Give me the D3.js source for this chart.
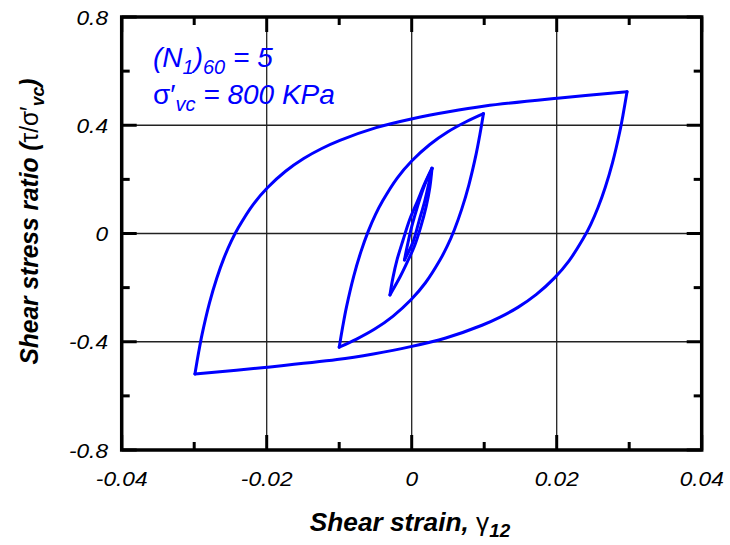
<!DOCTYPE html>
<html><head><meta charset="utf-8">
<script src="https://cdn.jsdelivr.net/npm/d3@7"></script>
<style>html,body{margin:0;padding:0;background:#fff}svg{display:block}</style>
</head><body>
<svg id="chart" width="730" height="545"></svg>
<script>
// ---- data (shear strain, shear stress ratio) ----
const xTicksMajor = [-0.04, -0.02, 0, 0.02, 0.04];
const xTicksMinor = [-0.03, -0.01, 0.01, 0.03];
const yTicksMajor = [-0.8, -0.4, 0, 0.4, 0.8];
const yTicksMinor = [-0.6, -0.2, 0.2, 0.6];
const xTickLabels = ["-0.04", "-0.02", "0", "0.02", "0.04"];
const yTickLabels = ["-0.8", "-0.4", "0", "0.4", "0.8"];
const xGrid = [-0.02, 0, 0.02];
const yGrid = [-0.4, 0, 0.4];

const bigUp = [[-0.0299,-0.519],[-0.0294,-0.441],[-0.0289,-0.371],[-0.0279,-0.257],[-0.0269,-0.166],[-0.0259,-0.091],[-0.0249,-0.029],[-0.0239,0.022],[-0.0219,0.106],[-0.0199,0.169],[-0.0174,0.230],[-0.0149,0.277],[-0.0124,0.314],[-0.0099,0.344],[-0.0049,0.391],[0.0001,0.424],[0.0051,0.450],[0.0101,0.471],[0.0201,0.500],[0.0297,0.524]];
const bigDown = [[0.0297,0.524],[0.0292,0.446],[0.0287,0.376],[0.0277,0.262],[0.0267,0.171],[0.0257,0.096],[0.0247,0.034],[0.0237,-0.017],[0.0217,-0.101],[0.0197,-0.164],[0.0172,-0.225],[0.0147,-0.272],[0.0122,-0.309],[0.0097,-0.339],[0.0047,-0.386],[-0.0003,-0.419],[-0.0053,-0.445],[-0.0103,-0.466],[-0.0203,-0.495],[-0.0299,-0.519]];
const medUp = [[-0.0100,-0.420],[-0.0095,-0.342],[-0.0090,-0.272],[-0.0080,-0.158],[-0.0070,-0.067],[-0.0060,0.008],[-0.0050,0.070],[-0.0040,0.121],[-0.0020,0.205],[0.0000,0.268],[0.0025,0.329],[0.0050,0.376],[0.0075,0.413],[0.0099,0.443]];
const medDown = [[0.0099,0.443],[0.0094,0.365],[0.0089,0.295],[0.0079,0.181],[0.0069,0.090],[0.0059,0.015],[0.0049,-0.047],[0.0039,-0.098],[0.0019,-0.182],[-0.0001,-0.245],[-0.0026,-0.306],[-0.0051,-0.353],[-0.0076,-0.390],[-0.0100,-0.420]];
const smallUp = [[-0.0030,-0.227],[-0.0026,-0.165],[-0.0020,-0.095],[-0.0012,-0.025],[-0.0003,0.050],[0.0008,0.120],[0.0018,0.185],[0.0028,0.241]];
const smallDown = [[0.0028,0.241],[0.0025,0.170],[0.0020,0.100],[0.0012,0.020],[0.0004,-0.045],[-0.0006,-0.105],[-0.0016,-0.160],[-0.0030,-0.227]];
const innerUp = [[-0.0010,-0.098],[-0.0006,-0.045],[0.0000,0.025],[0.0008,0.100],[0.0018,0.180],[0.0028,0.241]];
const innerDown = [[0.0028,0.241],[0.0024,0.190],[0.0018,0.120],[0.0010,0.045],[0.0002,-0.030],[-0.0010,-0.098]];
const branches = [bigUp, bigDown, medUp, medDown, smallUp, smallDown, innerUp, innerDown];

// ---- layout ----
const L = 121.7, R = 701.7, T = 17, B = 450;
const svg = d3.select("#chart");
const x = d3.scaleLinear().domain([-0.04, 0.04]).range([L, R]);
const y = d3.scaleLinear().domain([-0.8, 0.8]).range([B, T]);
const FONT = "'Liberation Sans', Arial, sans-serif";

// grid
svg.append("g").selectAll("line").data(xGrid).join("line")
  .attr("x1", d => x(d)).attr("x2", d => x(d)).attr("y1", T).attr("y2", B)
  .attr("stroke", "#222").attr("stroke-width", 1.3);
svg.append("g").selectAll("line").data(yGrid).join("line")
  .attr("y1", d => y(d)).attr("y2", d => y(d)).attr("x1", L).attr("x2", R)
  .attr("stroke", "#222").attr("stroke-width", 1.3);

// ticks (inside, all four sides)
const tk = svg.append("g").attr("stroke", "#000").attr("stroke-width", 3);
function ticksX(vals, len) {
  vals.forEach(v => {
    tk.append("line").attr("x1", x(v)).attr("x2", x(v)).attr("y1", B).attr("y2", B - len);
    tk.append("line").attr("x1", x(v)).attr("x2", x(v)).attr("y1", T).attr("y2", T + len);
  });
}
function ticksY(vals, len) {
  vals.forEach(v => {
    tk.append("line").attr("y1", y(v)).attr("y2", y(v)).attr("x1", L).attr("x2", L + len);
    tk.append("line").attr("y1", y(v)).attr("y2", y(v)).attr("x1", R).attr("x2", R - len);
  });
}
ticksX(xTicksMajor, 15); ticksX(xTicksMinor, 8);
ticksY(yTicksMajor, 15); ticksY(yTicksMinor, 8);

// loops
const line = d3.line().x(d => x(d[0])).y(d => y(d[1])).curve(d3.curveCatmullRom.alpha(0.5));
svg.append("g").selectAll("path").data(branches).join("path")
  .attr("d", line).attr("fill", "none").attr("stroke", "#0000ff")
  .attr("stroke-width", 3).attr("stroke-linejoin", "round").attr("stroke-linecap", "round");

// frame
svg.append("rect").attr("x", L).attr("y", T).attr("width", R - L).attr("height", B - T)
  .attr("fill", "none").attr("stroke", "#000").attr("stroke-width", 3.5);

// tick labels
function stext(px, py, anchor, size, sx, str) {
  const g = svg.append("g").attr("transform", `translate(${px},${py}) scale(${sx},1)`);
  return g.append("text").attr("text-anchor", anchor).attr("font-family", FONT)
    .attr("font-size", size).attr("font-style", "italic").attr("fill", "#000").text(str);
}
xTicksMajor.forEach((v, i) => stext(x(v), 486, "middle", 21, 1.08, xTickLabels[i]));
yTicksMajor.forEach((v, i) => stext(108, y(v) + 7.5, "end", 21, 1.08, yTickLabels[i]));

// x title
{
  const g = svg.append("g").attr("transform", `translate(410,531) scale(1.05,1)`);
  const t = g.append("text").attr("text-anchor", "middle").attr("font-family", FONT)
    .attr("font-size", 25).attr("font-weight", "bold").attr("font-style", "italic");
  t.append("tspan").text("Shear strain, ");
  t.append("tspan").attr("font-weight", "normal").attr("font-style", "normal").text("γ");
  t.append("tspan").attr("font-size", 18).attr("dy", 6).text("12");
}
// y title
{
  const g = svg.append("g").attr("transform", `translate(38,221.5) rotate(-90) scale(0.98,1)`);
  const t = g.append("text").attr("text-anchor", "middle").attr("font-family", FONT)
    .attr("font-size", 25).attr("font-weight", "bold").attr("font-style", "italic");
  t.append("tspan").text("Shear stress ratio (");
  t.append("tspan").attr("font-weight", "normal").attr("font-style", "normal").text("τ/σ′");
  t.append("tspan").attr("font-size", 18).attr("dy", 6).text("vc");
  t.append("tspan").attr("dy", -6).text(")");
}
// annotation
{
  const t1 = svg.append("text").attr("x", 153).attr("y", 67).attr("font-family", FONT)
    .attr("font-size", 28).attr("font-style", "italic").attr("fill", "#0000ff");
  t1.append("tspan").text("(N");
  t1.append("tspan").attr("font-size", 20).attr("dy", 7).text("1");
  t1.append("tspan").attr("dy", -7).text(")");
  t1.append("tspan").attr("font-size", 20).attr("dy", 7).text("60");
  t1.append("tspan").attr("dy", -7).text(" = 5");
  const t2 = svg.append("text").attr("x", 153).attr("y", 104).attr("font-family", FONT)
    .attr("font-size", 28).attr("font-style", "italic").attr("fill", "#0000ff");
  t2.append("tspan").attr("font-style", "normal").text("σ′");
  t2.append("tspan").attr("font-size", 20).attr("dy", 7).text("vc");
  t2.append("tspan").attr("dy", -7).text(" = 800 KPa");
}
</script>
</body></html>
